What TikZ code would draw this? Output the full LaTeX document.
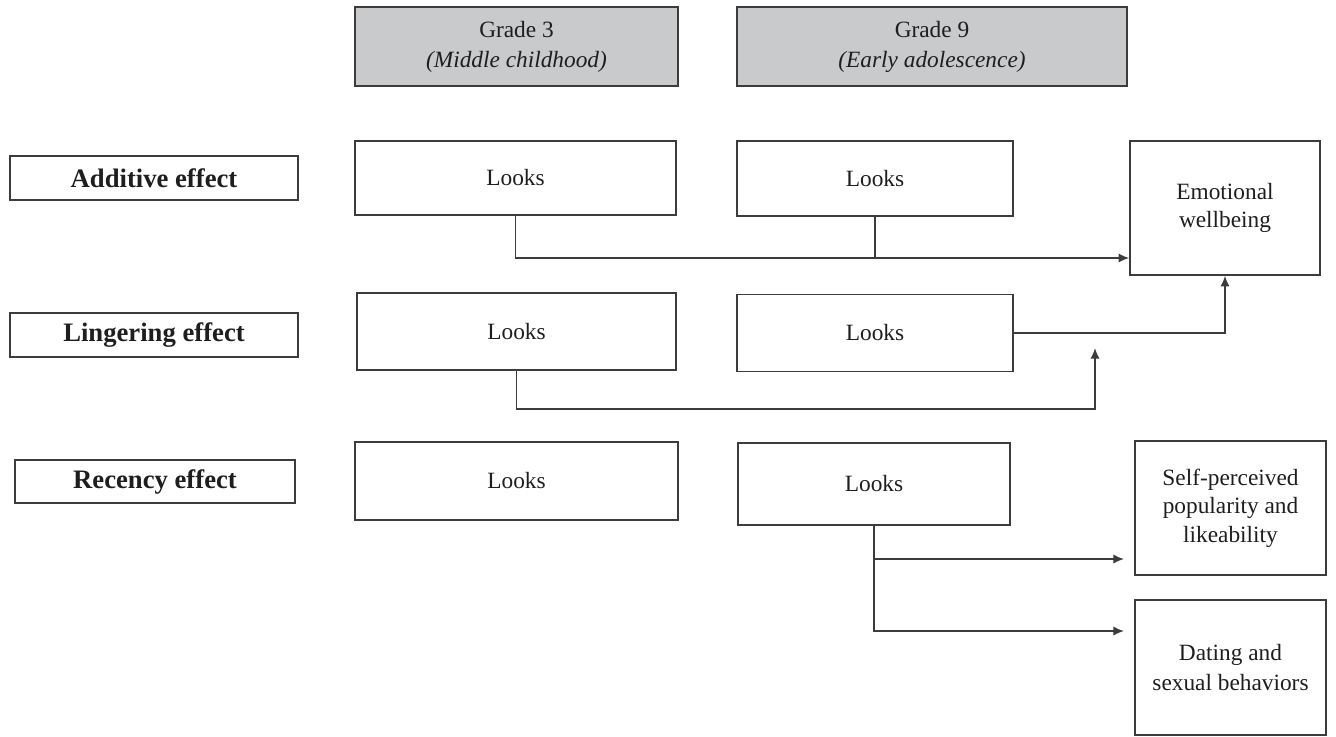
\documentclass[tikz,border=0pt]{standalone}
\usepackage{fontspec}
\setmainfont{Liberation Serif}
\usetikzlibrary{arrows.meta}
\definecolor{lc}{HTML}{3C3C3C}
\definecolor{hdr}{HTML}{C9CACC}
\definecolor{tx}{HTML}{1E1E1E}
\tikzset{
  box/.style={draw=lc, line width=1.2pt, rectangle, inner sep=0pt, align=center, text=tx,
    font=\fontsize{17.5}{21.5}\selectfont},
  hbox/.style={box, fill=hdr, font=\fontsize{17.5}{22.5}\selectfont},
  lbox/.style={box, font=\fontsize{20}{24}\selectfont\bfseries},
  conn/.style={draw=lc, line width=1.2pt},
  arr/.style={conn, -{Latex[length=8pt,width=7pt]}}
}
\begin{document}
\begin{tikzpicture}[x=0.75pt,y=-0.75pt]
\useasboundingbox (0,0) rectangle (1336,736);
% headers
\node[hbox, minimum width=242pt, minimum height=59pt] (h1) at (516.5,46.5) {Grade 3\\\textit{(Middle childhood)}};
\node[hbox, minimum width=292.5pt, minimum height=59pt] (h2) at (932,46.5) {Grade 9\\\textit{(Early adolescence)}};
% row labels
\node[lbox, minimum width=216pt, minimum height=33pt] (add) at (154,178) {Additive effect};
\node[lbox, minimum width=216pt, minimum height=33pt] (lin) at (154,335) {Lingering effect};
\node[lbox, minimum width=210pt, minimum height=32pt] (rec) at (155,481.5) {Recency effect};
% looks boxes
\node[box, minimum width=241pt, minimum height=55.5pt] (lA) at (515.5,178) {Looks};
\node[box, minimum width=207pt, minimum height=56pt] (lB) at (875,178.5) {Looks};
\node[box, minimum width=239pt, minimum height=58pt] (lC) at (516.5,331.5) {Looks};
\node[box, minimum width=207pt, minimum height=58pt] (lD) at (875,333) {Looks};
\node[box, minimum width=242pt, minimum height=58.5pt] (lE) at (516.5,481) {Looks};
\node[box, minimum width=204pt, minimum height=61.5pt] (lF) at (874,484) {Looks};
% outcomes
\node[box, minimum width=142.5pt, minimum height=100.5pt, font=\fontsize{17.5}{21}\selectfont] (emo) at (1225,208) {Emotional\\wellbeing};
\node[box, minimum width=143pt, minimum height=100.5pt, font=\fontsize{17.5}{21.5}\selectfont] (self) at (1230.5,508) {Self-perceived\\popularity and\\likeability};
\node[box, minimum width=143pt, minimum height=101pt, font=\fontsize{17.5}{22.5}\selectfont] (dat) at (1230.5,667.5) {Dating and\\sexual behaviors};
% additive connectors
\coordinate (j1) at (515.5,258);
\draw[arr] (lA.south) -- (j1) -- (j1 -| emo.west);
\draw[conn] (lB.south) -- (lB.south |- j1);
% lingering connectors
\draw[arr] (lD.east) -| (emo.south);
\coordinate (e2) at (1095,348);
\coordinate (j2) at (516.5,409);
\draw[arr] (lC.south) -- (j2) -| (e2);
% recency connectors
\coordinate (j3) at (874,559);
\coordinate (j4) at (874,631);
\coordinate (t3) at (1124,559);
\coordinate (t4) at (1124,631);
\draw[arr] (lF.south) -- (j4) -- (t4);
\draw[arr] (j3) -- (t3);
\end{tikzpicture}
\end{document}
